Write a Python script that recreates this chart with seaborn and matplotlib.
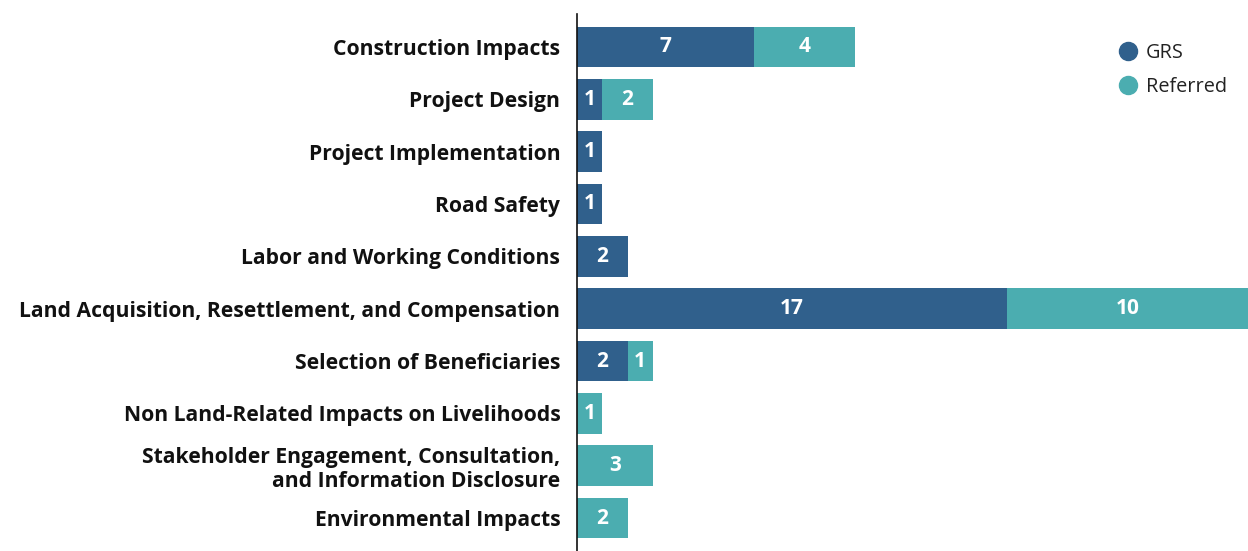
import matplotlib
matplotlib.use('Agg')
import matplotlib.pyplot as plt
from matplotlib.lines import Line2D
import seaborn as sns
import pandas as pd

categories = [
    'Construction Impacts',
    'Project Design',
    'Project Implementation',
    'Road Safety',
    'Labor and Working Conditions',
    'Land Acquisition, Resettlement, and Compensation',
    'Selection of Beneficiaries',
    'Non Land-Related Impacts on Livelihoods',
    'Stakeholder Engagement, Consultation,\nand Information Disclosure',
    'Environmental Impacts',
]
grs = [7, 1, 1, 1, 2, 17, 2, 0, 0, 0]
referred = [4, 2, 0, 0, 0, 10, 1, 1, 3, 2]

GRS_COLOR = '#30608c'
REF_COLOR = '#4badb0'
XMAX = 26.5

df = pd.DataFrame({'category': categories, 'GRS': grs, 'Referred': referred})
df['total'] = df['GRS'] + df['Referred']

sns.set_style('white')
plt.rcParams['font.family'] = ['Open Sans', 'DejaVu Sans']

fig = plt.figure(figsize=(12.48, 5.51), dpi=100)
ax = fig.add_axes([0.4623, 0.0, 0.5377, 0.9746])

# stacked: total first (teal), GRS over it
sns.barplot(data=df, y='category', x='total', color=REF_COLOR, width=0.78,
            orient='h', ax=ax, linewidth=0, saturation=1)
sns.barplot(data=df, y='category', x='GRS', color=GRS_COLOR, width=0.78,
            orient='h', ax=ax, linewidth=0, saturation=1)

for i, row in df.iterrows():
    if row['GRS'] > 0:
        ax.text(row['GRS'] / 2, i, str(row['GRS']), color='white',
                ha='center', va='center', fontsize=15, fontweight='bold')
    if row['Referred'] > 0:
        # centre on the visible part of the segment (the long bar runs off the edge)
        right = min(row['total'], XMAX)
        ax.text((row['GRS'] + right) / 2, i, str(row['Referred']),
                color='white', ha='center', va='center', fontsize=15,
                fontweight='bold')

ax.set_xlim(0, XMAX)
ax.set_ylim(len(categories) - 0.37, -0.63)
ax.set_xlabel('')
ax.set_ylabel('')
ax.set_xticks([])
ax.tick_params(axis='y', length=0, pad=12)
for lbl in ax.get_yticklabels():
    lbl.set_fontweight('bold')
    lbl.set_fontsize(15.2)
    lbl.set_color('#111111')
    lbl.set_horizontalalignment('right')
    lbl.set_multialignment('right')
    lbl.set_linespacing(1.15)

for side in ['top', 'right', 'bottom']:
    ax.spines[side].set_visible(False)
ax.spines['left'].set_color('#111111')
ax.spines['left'].set_linewidth(1.2)

handles = [
    Line2D([], [], marker='o', linestyle='', markersize=13, color=GRS_COLOR, label='GRS'),
    Line2D([], [], marker='o', linestyle='', markersize=13, color=REF_COLOR, label='Referred'),
]
ax.legend(handles=handles, loc='upper right', bbox_to_anchor=(0.995, 0.98), frameon=False,
          fontsize=14.3, handlelength=1.0, handletextpad=0.4, labelspacing=0.7,
          labelcolor='#222222')

fig.savefig('out.png', dpi=100)
